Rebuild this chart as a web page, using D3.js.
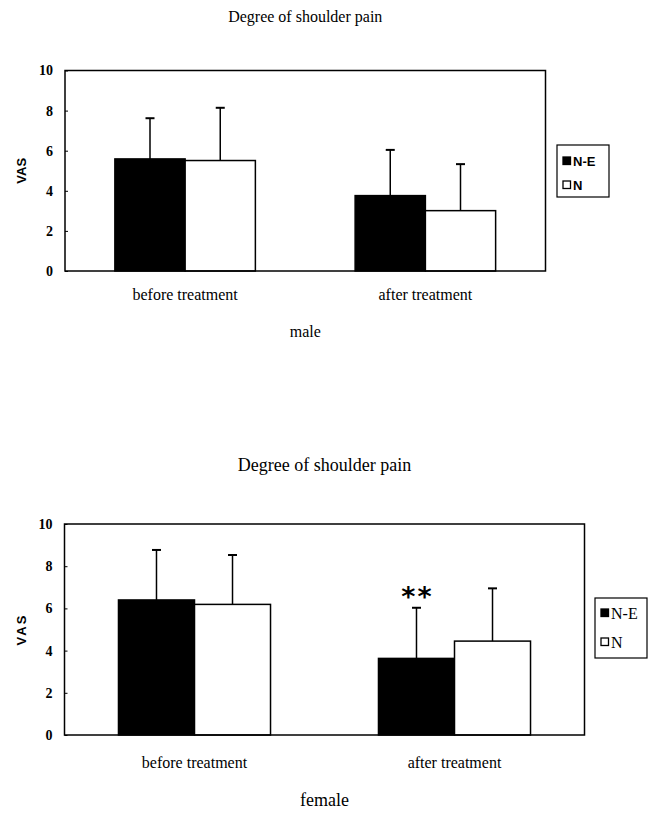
<!DOCTYPE html>
<html>
<head>
<meta charset="utf-8">
<script src="https://cdn.jsdelivr.net/npm/d3@7"></script>
<style>
  body { margin: 0; background: #fff; }
  svg { display: block; }
  .axis path, .axis line { stroke: #000; }
</style>
</head>
<body>
<svg id="chart" width="651" height="813"></svg>
<script>
// categories / series
var categories = ["before treatment", "after treatment"];
var series = ["N-E", "N"];
var yTicks = [0, 2, 4, 6, 8, 10];

// male: means and SD (error bar goes up only)
var maleNE = [5.59, 3.76];
var maleN = [5.51, 3.01];
var maleNESd = [2.03, 2.28];
var maleNSd = [2.63, 2.32];

// female
var femaleNE = [6.40, 3.63];
var femaleN = [6.19, 4.45];
var femaleNESd = [2.37, 2.40];
var femaleNSd = [2.34, 2.50];

var svg = d3.select("#chart");

function panel(opt) {
	var values = [opt.ne, opt.n];
	var sds = [opt.neSd, opt.nSd];
	var records = [];
	categories.forEach(function(c, i) {
		series.forEach(function(s, j) {
			records.push({ cat: c, ser: s, value: values[j][i], sd: sds[j][i] });
		});
	});

	var x0 = d3.scaleBand().domain(categories).range([opt.left, opt.right]).padding(0);
	var x1 = d3.scaleBand().domain(series).range([0, x0.bandwidth()]).paddingInner(0).paddingOuter(0.71);
	var y = d3.scaleLinear().domain([0, 10]).range([opt.bottom, opt.top]);

	var g = svg.append("g");

	// title
	g.append("text")
		.attr("x", (opt.left + opt.right) / 2)
		.attr("y", opt.titleY)
		.attr("text-anchor", "middle")
		.attr("font-family", "Liberation Serif, Times New Roman, serif")
		.attr("font-size", opt.titleSize)
		.text("Degree of shoulder pain");

	// y axis
	var yAxis = g.append("g")
		.attr("class", "axis")
		.attr("transform", "translate(" + opt.left + ",0)")
		.call(d3.axisLeft(y).tickValues(yTicks).tickSize(-3).tickPadding(12).tickFormat(d3.format("d")));
	yAxis.select(".domain").remove();
	yAxis.selectAll("text")
		.attr("font-family", "Liberation Serif, Times New Roman, serif")
		.attr("font-weight", "bold")
		.attr("font-size", 14)
		.attr("fill", "#000");

	g.append("text")
		.attr("transform", "translate(" + opt.vasX + "," + ((opt.top + opt.bottom) / 2) + ") rotate(-90)")
		.attr("text-anchor", "middle")
		.attr("dominant-baseline", "central")
		.attr("font-family", "Liberation Sans, Arial, sans-serif")
		.attr("font-weight", "bold")
		.attr("font-size", 13)
		.attr("letter-spacing", opt.vasSpacing)
		.text("VAS");

	// bars
	g.selectAll(".bar")
		.data(records)
		.enter().append("rect")
		.attr("x", function(d) { return x0(d.cat) + x1(d.ser); })
		.attr("y", function(d) { return y(d.value); })
		.attr("width", x1.bandwidth())
		.attr("height", function(d) { return y(0) - y(d.value); })
		.attr("fill", function(d) { return d.ser == "N-E" ? "#000" : "#fff"; })
		.attr("stroke", "#000")
		.attr("stroke-width", 1.5);

	// error bars (upper only)
	var err = g.selectAll(".err")
		.data(records)
		.enter().append("g");
	err.append("line")
		.attr("x1", function(d) { return x0(d.cat) + x1(d.ser) + x1.bandwidth() / 2; })
		.attr("x2", function(d) { return x0(d.cat) + x1(d.ser) + x1.bandwidth() / 2; })
		.attr("y1", function(d) { return y(d.value); })
		.attr("y2", function(d) { return y(d.value + d.sd); })
		.attr("stroke", "#000")
		.attr("stroke-width", 1.5);
	err.append("line")
		.attr("x1", function(d) { return x0(d.cat) + x1(d.ser) + x1.bandwidth() / 2 - 4.5; })
		.attr("x2", function(d) { return x0(d.cat) + x1(d.ser) + x1.bandwidth() / 2 + 4.5; })
		.attr("y1", function(d) { return y(d.value + d.sd); })
		.attr("y2", function(d) { return y(d.value + d.sd); })
		.attr("stroke", "#000")
		.attr("stroke-width", 2);

	// frame
	g.append("rect")
		.attr("x", opt.left)
		.attr("y", opt.top)
		.attr("width", opt.right - opt.left)
		.attr("height", opt.bottom - opt.top)
		.attr("fill", "none")
		.attr("stroke", "#000")
		.attr("stroke-width", 1.5);

	// category labels
	g.selectAll(".cat")
		.data(categories)
		.enter().append("text")
		.attr("x", function(d) { return x0(d) + x0.bandwidth() / 2; })
		.attr("y", opt.catY)
		.attr("text-anchor", "middle")
		.attr("font-family", "Liberation Serif, Times New Roman, serif")
		.attr("font-size", opt.catSize)
		.text(function(d) { return d; });

	g.append("text")
		.attr("x", (opt.left + opt.right) / 2)
		.attr("y", opt.groupY)
		.attr("text-anchor", "middle")
		.attr("font-family", "Liberation Serif, Times New Roman, serif")
		.attr("font-size", opt.titleSize)
		.text(opt.group);

	// significance mark
	if (opt.star) {
		var s = records.filter(function(d) { return d.cat == opt.star.cat && d.ser == opt.star.ser; })[0];
		g.append("text")
			.attr("x", x0(s.cat) + x1(s.ser) + x1.bandwidth() / 2 + 1)
			.attr("y", y(s.value + s.sd) - 2)
			.attr("text-anchor", "middle")
			.attr("font-family", "DejaVu Sans, sans-serif")
			.attr("font-weight", "bold")
			.attr("font-size", 27)
			.attr("letter-spacing", 2)
			.text("**");
	}

	// legend
	var lg = g.append("g").attr("transform", "translate(" + opt.legend.x + "," + opt.legend.y + ")");
	lg.append("rect")
		.attr("width", opt.legend.w)
		.attr("height", opt.legend.h)
		.attr("fill", "#fff")
		.attr("stroke", "#000")
		.attr("stroke-width", 1.2);
	series.forEach(function(s, i) {
		var yy = opt.legend.firstY + i * opt.legend.step;
		lg.append("rect")
			.attr("x", 6)
			.attr("y", yy - 4)
			.attr("width", 7.5)
			.attr("height", 7.5)
			.attr("fill", s == "N-E" ? "#000" : "#fff")
			.attr("stroke", "#000")
			.attr("stroke-width", 1.3);
		lg.append("text")
			.attr("x", 16)
			.attr("y", yy)
			.attr("dominant-baseline", "central")
			.attr("font-family", opt.legend.font)
			.attr("font-weight", opt.legend.weight)
			.attr("font-size", opt.legend.size)
			.text(s);
	});
}

panel({
	ne: maleNE, n: maleN, neSd: maleNESd, nSd: maleNSd,
	left: 65, right: 545.5, top: 70.5, bottom: 271,
	titleY: 22, titleSize: 16, catY: 300, catSize: 16, groupY: 337, group: "male",
	vasX: 21, vasSpacing: 0,
	legend: { x: 557, y: 145, w: 52, h: 52, firstY: 16, step: 24, font: "Liberation Sans, Arial, sans-serif", weight: "bold", size: 13 }
});

panel({
	ne: femaleNE, n: femaleN, neSd: femaleNESd, nSd: femaleNSd,
	left: 64.5, right: 584.5, top: 524, bottom: 735,
	titleY: 471, titleSize: 18, catY: 768, catSize: 16, groupY: 806, group: "female",
	vasX: 21, vasSpacing: 2,
	legend: { x: 595, y: 598, w: 52, h: 60, firstY: 15, step: 29, font: "Liberation Serif, Times New Roman, serif", weight: "normal", size: 16 },
	star: { cat: "after treatment", ser: "N-E" }
});
</script>
</body>
</html>
